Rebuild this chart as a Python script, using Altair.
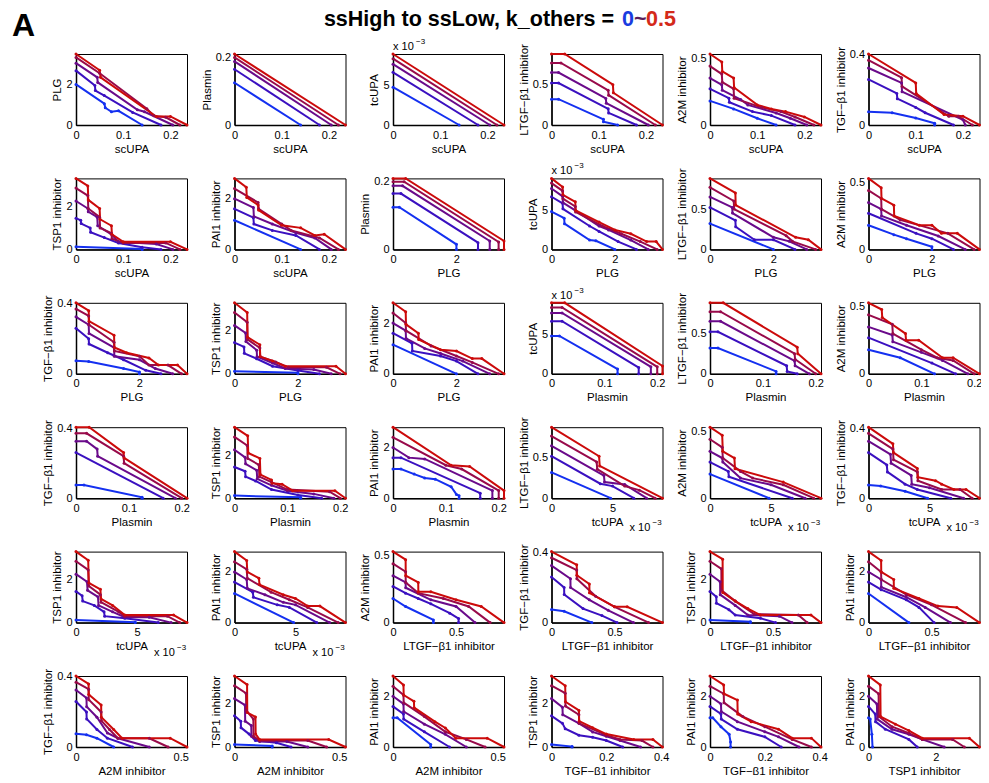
import altair as alt
import pandas as pd

FONT = "Liberation Sans"

VARS = ["scUPA", "PLG", "Plasmin", "tcUPA", "LTGF", "A2M", "TGF", "TSP1", "PAI1"]
LABELS = {
    "scUPA": "scUPA", "PLG": "PLG", "Plasmin": "Plasmin", "tcUPA": "tcUPA",
    "LTGF": "LTGF\u2212\u03b21 inhibitor", "A2M": "A2M inhibitor",
    "TGF": "TGF\u2212\u03b21 inhibitor", "TSP1": "TSP1 inhibitor", "PAI1": "PAI1 inhibitor",
}
AXMAX = {"scUPA": 0.235, "PLG": 3.5, "Plasmin": 0.21, "tcUPA": 9.1, "LTGF": 0.88,
         "A2M": 0.53, "TGF": 0.405, "TSP1": 3.3, "PAI1": 2.8}
TICKS = {"scUPA": [0, 0.1, 0.2], "PLG": [0, 2], "Plasmin": [0, 0.1, 0.2], "tcUPA": [0, 5],
         "LTGF": [0, 0.5], "A2M": [0, 0.5], "TGF": [0, 0.2, 0.4], "TSP1": [0, 2], "PAI1": [0, 1, 2]}
K_LEVELS = ["0", "0.125", "0.25", "0.375", "0.5"]
COLORS = ["#1430f0", "#3a10c0", "#6a0a8a", "#980a4a", "#cc0a0a"]

PAIRS = [
    ("scUPA", "PLG"), ("scUPA", "Plasmin"), ("scUPA", "tcUPA"), ("scUPA", "LTGF"), ("scUPA", "A2M"), ("scUPA", "TGF"),
    ("scUPA", "TSP1"), ("scUPA", "PAI1"), ("PLG", "Plasmin"), ("PLG", "tcUPA"), ("PLG", "LTGF"), ("PLG", "A2M"),
    ("PLG", "TGF"), ("PLG", "TSP1"), ("PLG", "PAI1"), ("Plasmin", "tcUPA"), ("Plasmin", "LTGF"), ("Plasmin", "A2M"),
    ("Plasmin", "TGF"), ("Plasmin", "TSP1"), ("Plasmin", "PAI1"), ("tcUPA", "LTGF"), ("tcUPA", "A2M"), ("tcUPA", "TGF"),
    ("tcUPA", "TSP1"), ("tcUPA", "PAI1"), ("LTGF", "A2M"), ("LTGF", "TGF"), ("LTGF", "TSP1"), ("LTGF", "PAI1"),
    ("A2M", "TGF"), ("A2M", "TSP1"), ("A2M", "PAI1"), ("TGF", "TSP1"), ("TGF", "PAI1"), ("TSP1", "PAI1"),
]

# each panel: 5 curves (k = 0 ... 0.5), "x,y x,y ..."
P01 = ["0,2 0.06,1.05 0.062,0.85 0.075,0.65 0.09,0.7 0.14,0",
       "0,2.68 0.04,1.95 0.041,1.7 0.06,1.45 0.12,0.62 0.18,0",
       "0,3.05 0.045,2.35 0.046,2.1 0.13,0.75 0.145,0.65 0.205,0",
       "0,3.33 0.05,2.55 0.15,0.8 0.165,0.45 0.19,0.38 0.22,0",
       "0,3.5 0.05,2.7 0.052,2.35 0.17,0.42 0.2,0.42 0.235,0"]
P02 = ["0,0.125 0.14,0", "0,0.165 0.18,0", "0,0.188 0.205,0", "0,0.2 0.22,0", "0,0.21 0.235,0"]
P03 = ["0,4.85 0.14,0", "0,6.75 0.18,0", "0,7.8 0.205,0", "0,8.5 0.22,0", "0,9.1 0.235,0"]
P04 = ["0,0.32 0.015,0.32 0.11,0.07 0.11,0.04 0.14,0",
       "0,0.52 0.015,0.52 0.12,0.2 0.121,0.15 0.18,0",
       "0,0.65 0.015,0.65 0.115,0.33 0.116,0.27 0.205,0",
       "0,0.77 0.02,0.77 0.12,0.43 0.121,0.37 0.22,0",
       "0,0.88 0.028,0.88 0.13,0.5 0.131,0.4 0.235,0"]
P05 = ["0,0.18 0.05,0.12 0.1,0.05 0.14,0",
       "0,0.27 0.04,0.2 0.041,0.17 0.09,0.1 0.13,0.07 0.18,0",
       "0,0.35 0.025,0.3 0.026,0.26 0.065,0.19 0.08,0.15 0.14,0.09 0.17,0.05 0.205,0",
       "0,0.44 0.025,0.38 0.026,0.32 0.05,0.27 0.051,0.2 0.11,0.13 0.15,0.1 0.18,0.06 0.22,0",
       "0,0.53 0.025,0.47 0.026,0.4 0.05,0.35 0.051,0.28 0.1,0.15 0.13,0.12 0.16,0.1 0.2,0.06 0.235,0"]
P06 = ["0,0.075 0.05,0.07 0.1,0.04 0.14,0.01 0.14,0",
       "0,0.26 0.06,0.18 0.061,0.15 0.1,0.1 0.12,0.07 0.18,0",
       "0,0.325 0.07,0.24 0.071,0.19 0.2,0.03 0.205,0",
       "0,0.37 0.07,0.27 0.071,0.22 0.17,0.05 0.19,0.05 0.22,0",
       "0,0.405 0.1,0.24 0.101,0.18 0.16,0.06 0.2,0.05 0.235,0"]
P07 = ["0,0.12 0.14,0.02 0.14,0",
       "0,1.45 0.01,1.35 0.011,1.2 0.03,1.0 0.031,0.8 0.06,0.55 0.09,0.3 0.14,0.1 0.18,0",
       "0,2.25 0.025,1.9 0.026,1.75 0.045,1.5 0.046,1.1 0.075,0.7 0.09,0.35 0.17,0.25 0.205,0",
       "0,2.85 0.025,2.5 0.026,1.9 0.05,1.5 0.051,1.0 0.075,0.75 0.076,0.5 0.1,0.3 0.19,0.3 0.22,0",
       "0,3.3 0.025,2.95 0.026,2.3 0.05,1.9 0.051,1.4 0.075,1.1 0.076,0.7 0.1,0.35 0.2,0.35 0.235,0"]
P08 = ["0,1.15 0.14,0",
       "0,1.6 0.04,1.25 0.041,1.0 0.08,0.75 0.13,0.55 0.18,0",
       "0,2 0.04,1.65 0.041,1.3 0.08,1.0 0.13,0.65 0.17,0.45 0.205,0",
       "0,2.4 0.05,1.85 0.051,1.6 0.1,1.0 0.12,0.75 0.18,0.45 0.22,0",
       "0,2.8 0.025,2.45 0.026,2.05 0.05,1.75 0.051,1.55 0.1,0.95 0.14,0.85 0.17,0.55 0.19,0.6 0.235,0"]
P09 = ["0,0.125 0.2,0.125 2,0.015 2,0",
       "0,0.165 0.25,0.165 2.68,0.02 2.68,0",
       "0,0.188 0.3,0.188 3.05,0.025 3.05,0",
       "0,0.2 0.35,0.2 3.33,0.022 3.33,0",
       "0,0.21 0.4,0.21 3.5,0.025 3.5,0"]
P10 = ["0,4.85 0.4,4 0.41,3.3 1.2,1.2 1.4,1.1 2,0",
       "0,6.75 0.35,5.9 0.36,5.2 1.2,3 1.5,2.3 2.1,1 2.68,0",
       "0,7.8 0.35,6.8 0.36,6 0.75,5 1.5,3 1.8,2.5 2.5,1.2 3.05,0",
       "0,8.5 0.35,7.5 0.36,6.5 0.75,5.5 0.76,4.8 1.6,3 2.2,2 2.8,1 3.33,0",
       "0,9.1 0.35,8 0.36,7 0.75,6.1 0.76,5 1.5,3.5 2,2.5 2.5,2 3,1 3.3,1 3.5,0"]
P11 = ["0,0.32 2,0",
       "0,0.52 0.8,0.36 0.81,0.28 1.4,0.12 2,0.12 2.68,0",
       "0,0.65 0.7,0.52 0.71,0.45 2,0.15 2.5,0.1 3.05,0",
       "0,0.77 0.75,0.6 0.76,0.5 2.4,0.17 2.6,0.1 3.33,0",
       "0,0.88 0.8,0.7 0.81,0.55 2.7,0.15 3.1,0.12 3.5,0"]
P12 = ["0,0.18 0.8,0.11 1.2,0.08 2,0.02 2,0",
       "0,0.27 1.5,0.12 2,0.08 2.68,0",
       "0,0.35 0.4,0.3 0.41,0.25 1.2,0.18 2.2,0.1 3.05,0",
       "0,0.44 0.4,0.38 0.41,0.3 1,0.22 2.5,0.12 3.33,0",
       "0,0.53 0.4,0.46 0.41,0.38 0.8,0.33 0.81,0.25 1.6,0.18 2,0.18 2.3,0.12 2.8,0.12 3.5,0"]
P13 = ["0,0.075 0.4,0.07 1.5,0.03 2,0.01 2,0",
       "0,0.26 0.4,0.2 0.41,0.17 1,0.12 1.5,0.08 2.2,0.02 2.68,0",
       "0,0.325 0.4,0.28 0.41,0.23 1.2,0.15 1.21,0.1 2,0.08 2.5,0.03 3.05,0",
       "0,0.37 0.4,0.33 0.41,0.28 1.2,0.18 1.21,0.13 2,0.1 2.3,0.05 2.9,0.05 3.33,0",
       "0,0.405 0.4,0.36 0.41,0.3 1.2,0.22 1.21,0.15 1.6,0.12 2.3,0.09 2.6,0.05 3.2,0.05 3.5,0"]
P14 = ["0,0.12 2,0.05 2,0",
       "0,1.45 0.3,1.25 0.31,0.95 0.7,0.7 1.2,0.35 2,0.15 2.68,0",
       "0,2.25 0.35,1.9 0.36,1.5 0.7,1.1 0.71,0.8 1.2,0.5 1.6,0.25 2.5,0.2 3.05,0",
       "0,2.85 0.4,2.4 0.41,1.6 0.8,1.2 0.81,0.8 1.3,0.55 1.7,0.3 2.9,0.3 3.33,0",
       "0,3.3 0.4,2.85 0.41,1.7 0.8,1.35 0.81,0.8 1.2,0.6 1.6,0.35 3.2,0.35 3.5,0"]
P15 = ["0,1.15 2,0",
       "0,1.6 0.6,1.2 0.61,0.9 1.5,0.7 2,0.5 2.68,0",
       "0,2 0.4,1.7 0.41,1.4 1,1 1.5,0.8 2.2,0.5 3.05,0",
       "0,2.4 0.4,2 0.41,1.7 1.2,1.1 2,0.7 2.5,0.45 3.33,0",
       "0,2.8 0.4,2.45 0.41,1.95 0.8,1.6 0.81,1.35 1.5,0.95 2,0.9 2.5,0.6 2.8,0.6 3.5,0"]
P16 = ["0,4.85 0.015,4.85 0.125,0.6 0.125,0",
       "0,6.75 0.02,6.75 0.165,0.8 0.165,0",
       "0,7.8 0.02,7.8 0.188,0.9 0.188,0",
       "0,8.5 0.02,8.5 0.2,0.9 0.2,0",
       "0,9.1 0.025,9.1 0.21,1 0.21,0"]
P17 = ["0,0.32 0.015,0.32 0.125,0.03 0.125,0",
       "0,0.52 0.015,0.52 0.145,0.1 0.146,0.03 0.165,0",
       "0,0.65 0.02,0.65 0.16,0.16 0.161,0.1 0.188,0",
       "0,0.77 0.02,0.77 0.16,0.25 0.161,0.18 0.2,0",
       "0,0.88 0.025,0.88 0.165,0.33 0.166,0.25 0.21,0"]
P18 = ["0,0.18 0.06,0.12 0.125,0",
       "0,0.27 0.12,0.08 0.165,0",
       "0,0.35 0.045,0.29 0.046,0.24 0.1,0.16 0.14,0.1 0.188,0",
       "0,0.44 0.045,0.37 0.046,0.3 0.1,0.18 0.13,0.12 0.16,0.1 0.2,0",
       "0,0.53 0.025,0.48 0.026,0.42 0.07,0.3 0.071,0.25 0.095,0.25 0.14,0.12 0.16,0.12 0.21,0"]
P19 = ["0,0.075 0.015,0.075 0.125,0.005 0.125,0",
       "0,0.26 0.165,0",
       "0,0.325 0.02,0.325 0.04,0.28 0.041,0.24 0.188,0",
       "0,0.37 0.02,0.37 0.09,0.24 0.091,0.2 0.2,0",
       "0,0.405 0.025,0.405 0.09,0.26 0.091,0.23 0.21,0"]
P20 = ["0,0.12 0.125,0.04 0.125,0",
       "0,1.45 0.02,1.25 0.021,1 0.04,0.8 0.07,0.4 0.12,0.15 0.165,0",
       "0,2.25 0.02,1.9 0.021,1.6 0.042,1.3 0.043,0.9 0.07,0.6 0.1,0.35 0.15,0.2 0.188,0",
       "0,2.85 0.024,2.45 0.025,1.85 0.046,1.55 0.047,1 0.07,0.75 0.1,0.4 0.18,0.3 0.2,0",
       "0,3.3 0.025,2.9 0.026,2.1 0.048,1.85 0.049,1.1 0.07,0.85 0.071,0.7 0.09,0.65 0.11,0.35 0.19,0.35 0.21,0"]
P21 = ["0,1.15 0.015,1.15 0.04,0.95 0.06,0.8 0.08,0.75 0.11,0.45 0.12,0.15 0.125,0.1 0.125,0",
       "0,1.6 0.015,1.6 0.165,0.2 0.165,0",
       "0,2 0.03,1.6 0.06,1.55 0.188,0.3 0.188,0",
       "0,2.4 0.1,1.3 0.13,1.15 0.2,0.3 0.2,0",
       "0,2.8 0.11,1.3 0.145,1.25 0.21,0.3 0.21,0"]
P22 = ["0,0.32 4.85,0",
       "0,0.52 4,0.18 5,0.15 6.75,0",
       "0,0.65 4.3,0.28 4.35,0.2 6,0.17 7.8,0",
       "0,0.77 3.7,0.45 3.75,0.36 6,0.15 7.2,0.1 8.5,0",
       "0,0.88 3.9,0.52 3.95,0.4 9.1,0"]
P23 = ["0,0.18 4.85,0",
       "0,0.27 1.5,0.2 1.55,0.16 6.75,0",
       "0,0.35 1,0.3 1.05,0.27 2.5,0.15 5,0.1 7.8,0",
       "0,0.44 1,0.38 1.05,0.3 2.5,0.2 3.5,0.15 6,0.1 8.5,0",
       "0,0.53 1,0.47 1.05,0.35 2,0.3 2.05,0.22 6,0.12 9.1,0"]
P24 = ["0,0.075 1,0.07 3,0.04 4.85,0",
       "0,0.26 1.5,0.19 1.55,0.15 3,0.08 4,0.05 6.75,0",
       "0,0.325 1.8,0.25 1.85,0.2 3.5,0.13 3.55,0.08 5,0.06 7.8,0",
       "0,0.37 2,0.28 2.05,0.22 4,0.15 4.05,0.1 6,0.05 7.5,0.05 8.5,0",
       "0,0.405 2,0.31 2.05,0.26 4,0.17 4.05,0.12 5.5,0.1 6,0.08 7,0.05 8,0.05 9.1,0"]
P25 = ["0,0.12 4.85,0.02 4.85,0",
       "0,1.45 0.5,1.25 0.55,1 1.5,0.8 2.3,0.5 2.35,0.3 4,0.2 6.75,0",
       "0,2.25 0.9,1.9 0.95,1.5 1.8,1.2 1.85,0.8 3,0.5 4,0.25 6,0.25 7.8,0",
       "0,2.85 1,2.45 1.05,1.7 2,1.3 2.05,0.95 3.5,0.5 4,0.3 7.5,0.3 8.5,0",
       "0,3.3 1,2.9 1.05,1.85 2,1.55 2.05,1.1 3,0.8 4,0.35 8,0.35 9.1,0"]
P26 = ["0,1.15 4.85,0",
       "0,1.6 1.5,1.2 1.55,1 3.5,0.7 4.5,0.6 6.75,0",
       "0,2 1,1.7 1.05,1.35 2.5,1.1 4,0.8 5,0.7 7.8,0",
       "0,2.4 1,2.1 1.05,1.75 3,1.2 4.5,0.9 6,0.6 8.5,0",
       "0,2.8 1,2.45 1.05,2 2,1.75 2.05,1.5 4,1.1 5,0.95 6,0.65 7,0.65 9.1,0"]
P27 = ["0,0.18 0.1,0.12 0.32,0.02 0.32,0",
       "0,0.27 0.1,0.22 0.2,0.18 0.3,0.14 0.45,0.07 0.52,0.03 0.52,0",
       "0,0.35 0.1,0.3 0.101,0.26 0.3,0.17 0.5,0.12 0.65,0",
       "0,0.44 0.1,0.38 0.101,0.3 0.2,0.22 0.4,0.18 0.6,0.12 0.77,0",
       "0,0.53 0.1,0.47 0.101,0.35 0.2,0.3 0.201,0.23 0.3,0.23 0.5,0.17 0.7,0.12 0.88,0"]
P28 = ["0,0.075 0.1,0.065 0.32,0",
       "0,0.26 0.1,0.2 0.101,0.16 0.25,0.08 0.4,0.04 0.52,0",
       "0,0.325 0.15,0.25 0.151,0.2 0.3,0.13 0.45,0.07 0.65,0",
       "0,0.37 0.2,0.3 0.201,0.25 0.35,0.15 0.5,0.09 0.77,0",
       "0,0.405 0.2,0.33 0.201,0.27 0.3,0.22 0.301,0.17 0.5,0.09 0.6,0.09 0.88,0"]
P29 = ["0,0.12 0.32,0.04 0.32,0",
       "0,1.45 0.05,1.2 0.051,0.9 0.15,0.6 0.2,0.35 0.4,0.2 0.52,0",
       "0,2.25 0.08,1.9 0.081,1.3 0.2,0.8 0.3,0.35 0.55,0.3 0.65,0",
       "0,2.85 0.09,2.5 0.091,1.5 0.2,1 0.35,0.4 0.7,0.35 0.77,0",
       "0,3.3 0.1,2.95 0.101,1.4 0.2,1 0.3,0.65 0.4,0.35 0.8,0.35 0.88,0"]
P30 = ["0,1.15 0.32,0",
       "0,1.6 0.1,1.3 0.3,0.9 0.4,0.6 0.52,0",
       "0,2 0.1,1.7 0.101,1.4 0.3,1 0.45,0.6 0.65,0",
       "0,2.4 0.1,2 0.101,1.7 0.3,1.1 0.5,0.7 0.77,0",
       "0,2.8 0.1,2.45 0.101,2 0.2,1.7 0.201,1.35 0.4,0.95 0.55,0.65 0.7,0.6 0.88,0"]
P31 = ["0,0.075 0.05,0.07 0.1,0.05 0.18,0",
       "0,0.26 0.05,0.2 0.051,0.16 0.1,0.1 0.15,0.05 0.27,0",
       "0,0.325 0.05,0.28 0.051,0.23 0.1,0.17 0.15,0.08 0.2,0.05 0.35,0",
       "0,0.37 0.06,0.33 0.061,0.27 0.12,0.2 0.121,0.15 0.16,0.1 0.2,0.05 0.35,0.05 0.44,0",
       "0,0.405 0.06,0.36 0.061,0.3 0.12,0.24 0.121,0.17 0.18,0.1 0.22,0.05 0.45,0.05 0.53,0"]
P32 = ["0,0.12 0.18,0.05 0.18,0",
       "0,1.45 0.03,1.2 0.031,0.9 0.07,0.6 0.1,0.3 0.2,0.2 0.27,0",
       "0,2.25 0.05,1.95 0.051,1.2 0.08,1 0.081,0.5 0.12,0.25 0.25,0.25 0.35,0",
       "0,2.85 0.055,2.5 0.056,1.7 0.09,1.3 0.091,0.5 0.12,0.3 0.35,0.3 0.44,0",
       "0,3.3 0.06,2.9 0.061,1.6 0.1,1.4 0.101,0.6 0.12,0.35 0.45,0.35 0.53,0"]
P33 = ["0,1.15 0.02,1.15 0.18,0.1 0.18,0",
       "0,1.6 0.05,1.3 0.051,1.1 0.15,0.6 0.27,0",
       "0,2 0.05,1.7 0.051,1.4 0.15,0.9 0.25,0.5 0.35,0",
       "0,2.4 0.05,2.05 0.051,1.75 0.15,1.2 0.25,0.6 0.35,0.3 0.44,0",
       "0,2.8 0.05,2.45 0.051,2.05 0.1,1.8 0.101,1.55 0.2,1 0.25,0.75 0.3,0.35 0.45,0.35 0.53,0"]
P34 = ["0,0.12 0.075,0.02 0.075,0",
       "0,1.45 0.04,1.1 0.05,0.85 0.1,0.55 0.15,0.45 0.2,0.3 0.26,0",
       "0,2.25 0.04,1.85 0.041,1.5 0.1,1.1 0.15,0.7 0.2,0.5 0.25,0.3 0.325,0",
       "0,2.85 0.05,2.5 0.051,1.9 0.1,1.5 0.101,1.1 0.2,0.55 0.25,0.35 0.33,0.3 0.37,0",
       "0,3.3 0.05,2.85 0.051,2.1 0.1,1.7 0.101,1.2 0.15,0.9 0.2,0.6 0.3,0.35 0.37,0.35 0.405,0"]
P35 = ["0,1.15 0.01,1.15 0.04,0.8 0.07,0.5 0.075,0.2 0.075,0",
       "0,1.6 0.04,1.3 0.041,1.1 0.1,0.7 0.2,0.4 0.26,0",
       "0,2 0.04,1.7 0.041,1.4 0.1,1 0.2,0.6 0.25,0.4 0.325,0",
       "0,2.4 0.05,2.1 0.051,1.75 0.12,1.2 0.2,0.8 0.3,0.3 0.37,0",
       "0,2.8 0.05,2.45 0.051,2.1 0.1,1.85 0.101,1.3 0.15,1 0.25,0.7 0.3,0.35 0.37,0.35 0.405,0"]
P36 = ["0,1.15 0.05,1.1 0.1,0.5 0.12,0",
       "0,1.6 0.2,1.3 0.21,1 0.5,0.7 1.2,0.3 1.45,0",
       "0,2 0.25,1.7 0.26,1.1 0.7,0.7 1.2,0.5 1.6,0.3 2.25,0",
       "0,2.4 0.3,2.1 0.31,1.2 0.7,0.8 1.2,0.55 1.6,0.3 2.5,0.3 2.85,0",
       "0,2.8 0.35,2.45 0.36,1.2 0.8,0.9 1.2,0.65 1.6,0.35 3,0.35 3.3,0"]

PANELS = [P01, P02, P03, P04, P05, P06, P07, P08, P09, P10, P11, P12,
          P13, P14, P15, P16, P17, P18, P19, P20, P21, P22, P23, P24,
          P25, P26, P27, P28, P29, P30, P31, P32, P33, P34, P35, P36]

TITLE_MAIN = "ssHigh to ssLow, k_others ="
TITLE_PARTS = [("0", "#1a3ce0"), ("~", "#5a1e5a"), ("0.5", "#d42a1a")]

W, H = 111, 71


def text_layer(txt, x, y, size, color="black", weight="normal", align="left"):
    return alt.Chart(pd.DataFrame({"t": [txt]})).mark_text(
        font=FONT, fontSize=size, fontWeight=weight, color=color, align=align,
        baseline="alphabetic").encode(x=alt.value(x), y=alt.value(y), text="t:N")


def make_panel(idx):
    xv, yv = PAIRS[idx]
    rows = []
    for k, s in zip(K_LEVELS, PANELS[idx]):
        for j, pt in enumerate(s.split()):
            a, b = pt.split(",")
            rows.append({"x": float(a), "y": float(b), "k": k, "o": j})
    df = pd.DataFrame(rows)
    xenc = alt.X("x:Q", scale=alt.Scale(domain=[0, AXMAX[xv]], nice=False, zero=False),
                 axis=alt.Axis(title=LABELS[xv], values=TICKS[xv], format="~g"))
    yenc = alt.Y("y:Q", scale=alt.Scale(domain=[0, AXMAX[yv]], nice=False, zero=False),
                 axis=alt.Axis(title=LABELS[yv], values=TICKS[yv], format="~g"))
    col = alt.Color("k:N", scale=alt.Scale(domain=K_LEVELS, range=COLORS), legend=None)
    base = alt.Chart(df)
    lines = base.mark_line(strokeWidth=2).encode(x=xenc, y=yenc, color=col, order="o:Q")
    pts = base.mark_point(filled=True, size=9, opacity=1).encode(x="x:Q", y="y:Q", color=col)
    layers = [lines, pts]
    if yv == "tcUPA":
        layers.append(text_layer("x 10", 0, -4, 11))
        layers.append(text_layer("\u22123", 23, -10, 8))
    if xv == "tcUPA":
        layers.append(text_layer("x 10", 78, 104, 11))
        layers.append(text_layer("\u22123", 101, 98, 8))
    if idx == 0:
        layers.append(text_layer("A", -64, -18, 32, weight="bold"))
        layers.append(text_layer(TITLE_MAIN, 538, -28, 21.5, weight="bold", align="right"))
        xs = [546, 558, 570]
        for (t, c), xx in zip(TITLE_PARTS, xs):
            layers.append(text_layer(t, xx, -28, 21.5, color=c, weight="bold"))
    return alt.layer(*layers).properties(width=W, height=H)


charts = [make_panel(i) for i in range(36)]

chart = alt.concat(*charts, columns=6, spacing={"row": 53.4, "column": 47.5}, bounds="flush").properties(
    padding={"left": 3, "top": 0, "right": -3, "bottom": -2}
).configure_axis(
    domainColor="black", domainWidth=1.5, ticks=False, grid=False,
    labelFont=FONT, labelFontSize=11, labelColor="black", labelPadding=4,
    labelFlush=False, labelOverlap=False, labelBound=False,
    titleFont=FONT, titleFontSize=11.5, titleFontWeight="normal", titleColor="black", titlePadding=3,
).configure_view(stroke="black", strokeWidth=1)

chart.save("out.html", embed_options={"renderer": "svg", "actions": False})
